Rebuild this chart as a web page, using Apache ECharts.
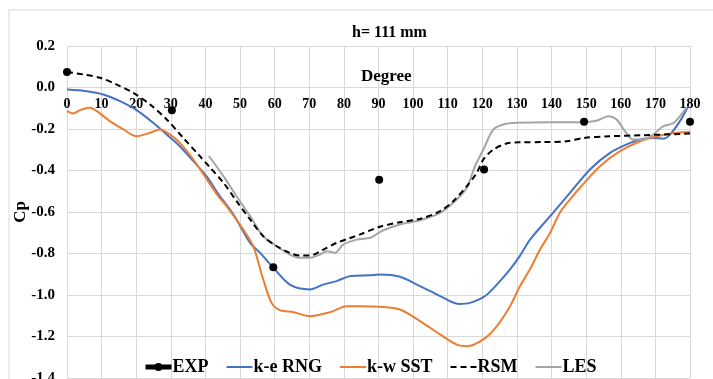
<!DOCTYPE html>
<html>
<head>
<meta charset="utf-8">
<script src="https://cdn.jsdelivr.net/npm/echarts@6/dist/echarts.min.js"></script>
<style>
  html, body { margin: 0; padding: 0; background: #fff; }
  #chart { width: 713px; height: 379px; }
</style>
</head>
<body>
<div id="chart"></div>
<script>
// [degree, Cp] pairs
const expData = [[0, 0.075], [30.3, -0.11], [59.6, -0.866], [90.2, -0.445], [120.5, -0.395], [149.4, -0.165], [180, -0.165]];

const keRng = [[0, -0.01], [5.7, -0.018], [10.5, -0.034], [15.3, -0.066], [20.1, -0.109], [24.9, -0.17], [28.8, -0.227],
  [32.6, -0.283], [36.5, -0.355], [40.4, -0.43], [44, -0.52], [48, -0.61], [52.9, -0.749], [55.8, -0.797], [59.6, -0.868],
  [64.4, -0.95], [70.2, -0.973], [74, -0.95], [77.9, -0.933], [81.8, -0.909], [87.5, -0.905], [90.4, -0.901], [96.2, -0.912],
  [102, -0.957], [107.8, -1.005], [113.1, -1.043], [116.4, -1.038], [120.8, -1.005], [125.1, -0.933], [128, -0.877],
  [130.9, -0.81], [133.8, -0.733], [139.6, -0.62], [145.3, -0.508], [151.1, -0.395], [156.9, -0.315], [162.7, -0.267],
  [166.5, -0.247], [169.4, -0.243], [172.3, -0.247], [174.2, -0.227], [177.1, -0.162], [179.5, -0.09]];

const kwSst = [[0, -0.114], [1.8, -0.125], [3.8, -0.109], [6.6, -0.098], [8.6, -0.114], [12.4, -0.162], [16.3, -0.202],
  [20.1, -0.235], [24, -0.218], [26.9, -0.202], [29.8, -0.227], [32.6, -0.267], [36.5, -0.347], [40.4, -0.443],
  [43.7, -0.524], [46.1, -0.572], [50.9, -0.684], [53.8, -0.765], [56.7, -0.925], [59.1, -1.038], [61.5, -1.073],
  [65.4, -1.083], [70.2, -1.102], [76, -1.083], [80.8, -1.054], [84.7, -1.054], [90.4, -1.057], [96.2, -1.07],
  [102, -1.126], [107.8, -1.19], [112.6, -1.239], [115.5, -1.247], [120.3, -1.214], [124.2, -1.15], [128, -1.054],
  [130.9, -0.957], [133.8, -0.875], [136.7, -0.78], [139.6, -0.7], [142.4, -0.604], [145.3, -0.54], [148.2, -0.483],
  [154, -0.379], [159.8, -0.307], [165.6, -0.259], [171.3, -0.231], [176.2, -0.218], [180, -0.215]];

const rsm = [[0, 0.075], [4.7, 0.063], [9.5, 0.047], [14.4, 0.014], [19.2, -0.026], [24, -0.082], [28.8, -0.154],
  [33.6, -0.243], [38.4, -0.331], [41.3, -0.385], [45.2, -0.459], [49, -0.548], [52.9, -0.636], [56.7, -0.717],
  [60.6, -0.765], [64.4, -0.797], [67.3, -0.81], [70.2, -0.81], [74.1, -0.781], [77.9, -0.749], [81.8, -0.725],
  [84.7, -0.708], [90.4, -0.671], [96.2, -0.649], [102, -0.633], [107.8, -0.596], [111.6, -0.548], [115.5, -0.476],
  [118.4, -0.411], [120.3, -0.347], [123.2, -0.299], [127, -0.27], [130.9, -0.264], [137.6, -0.263], [144.4, -0.259],
  [149.4, -0.243], [156.9, -0.235], [166.5, -0.23], [180, -0.222]];

const les = [[41, -0.33], [45.2, -0.427], [49, -0.524], [52.9, -0.62], [56.7, -0.717], [60.6, -0.765], [64.4, -0.805],
  [67.3, -0.821], [70.2, -0.821], [73.1, -0.805], [75, -0.789], [77.4, -0.797], [79.8, -0.757], [83.7, -0.733],
  [87.5, -0.725], [88.5, -0.717], [91.4, -0.688], [96.2, -0.66], [102, -0.64], [107.8, -0.604], [112.6, -0.54],
  [115.5, -0.483], [117.9, -0.379], [120.3, -0.299], [123.2, -0.202], [126.1, -0.178], [129.9, -0.17], [139.6, -0.167],
  [149.2, -0.167], [153, -0.16], [156.4, -0.138], [158.8, -0.154], [161.2, -0.21], [163.6, -0.251], [166.5, -0.251],
  [169.4, -0.227], [172.3, -0.186], [175.2, -0.172], [177.1, -0.138], [179, -0.098]];

const seriesNames = ['EXP', 'k-e RNG', 'k-w SST', 'RSM', 'LES'];

const serif = 'Liberation Serif';
const gridColor = '#d9d9d9';
const plotHeight = 332;

const chart = echarts.init(document.getElementById('chart'));

const curve = (name, data, color, extra) => Object.assign({
  name: name,
  type: 'line',
  data: data,
  symbol: 'none',
  smooth: 0.3,
  lineStyle: { color: color, width: 2 },
  itemStyle: { color: color },
  z: 3,
}, extra || {});

chart.setOption({
  animation: false,
  title: [
    {
      text: 'h= 111 mm',
      left: 352, top: 25, padding: 0,
      textStyle: { fontFamily: serif, fontWeight: 'bold', fontSize: 16, color: '#000' },
    },
    {
      text: 'Degree',
      left: 361, top: 68, padding: 0,
      textStyle: { fontFamily: serif, fontWeight: 'bold', fontSize: 17, color: '#000' },
    },
  ],
  graphic: [{
    type: 'rect',
    shape: { x: 9, y: 10, width: 712, height: 380 },
    style: { fill: 'none', stroke: gridColor, lineWidth: 1 },
    silent: true,
  }],
  grid: { left: 67, right: 23, top: 46, bottom: 1, outerBoundsMode: 'none' },
  legend: {
    data: [
      { name: 'EXP', lineStyle: { width: 5, color: '#000' }, itemStyle: { opacity: 1 } },
      'k-e RNG', 'k-w SST', 'RSM', 'LES',
    ],
    left: 143, top: 358, padding: 0,
    itemWidth: 26, itemHeight: 10, itemGap: 17,
    itemStyle: { opacity: 0 },
    textStyle: { fontFamily: serif, fontWeight: 'bold', fontSize: 18, color: '#000', padding: [0, 0, 0, -4] },
  },
  xAxis: {
    type: 'value',
    position: 'bottom',
    // the degree axis sits on Cp = 0, which is 0.2 of the 1.6 range below the top
    offset: -(plotHeight - 0.2 * plotHeight / 1.6),
    min: 0, max: 180, interval: 10,
    axisLine: { onZero: false, lineStyle: { color: gridColor } },
    axisTick: { show: false },
    axisLabel: { fontFamily: serif, fontWeight: 'bold', fontSize: 14, color: '#000', margin: 10 },
    splitLine: { lineStyle: { color: gridColor } },
  },
  yAxis: {
    type: 'value',
    min: -1.4, max: 0.2, interval: 0.2,
    name: 'Cp',
    nameLocation: 'middle',
    nameGap: 38,
    nameMoveOverlap: false,
    nameRotate: 90,
    nameTextStyle: { fontFamily: serif, fontWeight: 'bold', fontSize: 17, color: '#000' },
    axisLine: { show: false, onZero: false },
    axisTick: { show: false },
    axisLabel: {
      fontFamily: serif, fontWeight: 'bold', fontSize: 15, color: '#000', margin: 12,
      formatter: (v) => v.toFixed(1),
    },
    splitLine: { lineStyle: { color: gridColor } },
  },
  series: [
    {
      name: seriesNames[0],
      type: 'line',
      data: expData,
      symbol: 'circle',
      symbolSize: 8,
      lineStyle: { width: 0, color: '#000' },
      itemStyle: { color: '#000' },
      z: 5,
    },
    curve(seriesNames[1], keRng, '#4472c4'),
    curve(seriesNames[2], kwSst, '#ed7d31'),
    curve(seriesNames[3], rsm, '#000', { lineStyle: { color: '#000', width: 2, type: [6, 4] }, z: 4 }),
    curve(seriesNames[4], les, '#a5a5a5'),
  ],
});
</script>
</body>
</html>
